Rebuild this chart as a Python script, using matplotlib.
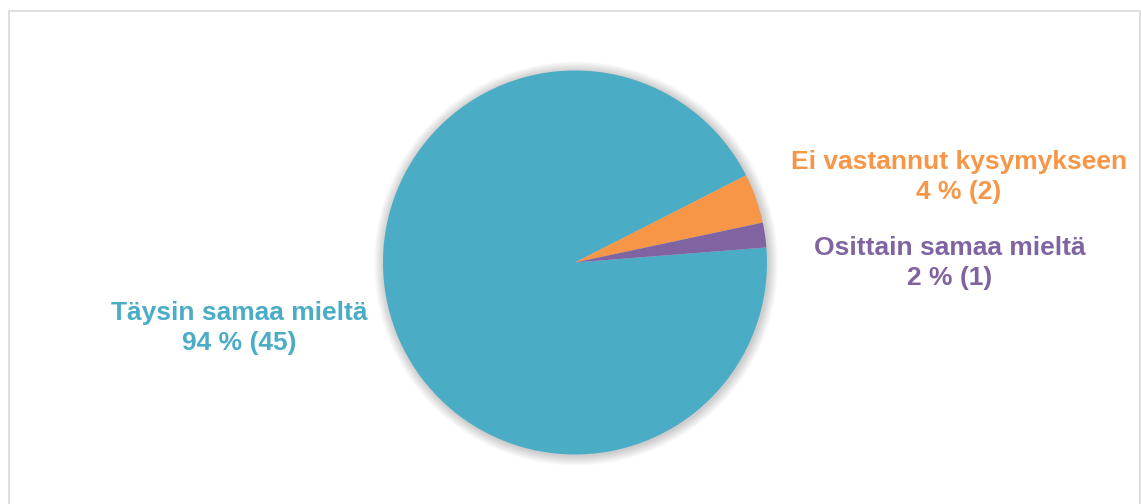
import matplotlib.pyplot as plt
from matplotlib.patches import Circle, Rectangle

# answer counts
categories = ["Täysin samaa mieltä", "Ei vastannut kysymykseen", "Osittain samaa mieltä"]
counts = [45, 2, 1]
colors = ["#4BACC6", "#F79646", "#8064A2"]

# label anchors (pixel coords, y from bottom)
label_pos = [(239, 176), (959, 327), (950, 241)]

W, H = 1141, 504
fig = plt.figure(figsize=(W / 100, H / 100), dpi=100)
ax = fig.add_axes([0, 0, 1, 1])

# chart area border
ax.add_patch(Rectangle((8.5, -10), 1131, H - 10.5 + 10, fill=False,
                       edgecolor="#D9D9D9", linewidth=1.2))

cx, cy, r = 575, 504 - 262.5, 192

# soft shadow around the pie
for i in range(10):
    ax.add_patch(Circle((cx + 1, cy - 1), r + 1 + i, color="black",
                        alpha=0.018, linewidth=0, zorder=1))

ax.pie(counts, colors=colors, startangle=4.5, counterclock=False,
       center=(cx, cy), radius=r, frame=True,
       wedgeprops=dict(linewidth=0, zorder=2))
ax.set_xlim(0, W)
ax.set_ylim(0, H)
ax.axis("off")

total = sum(counts)
for name, n, col, (x, y) in zip(categories, counts, colors, label_pos):
    pct = round(n / total * 100)
    ax.text(x, y, f"{name}\n{pct} % ({n})", ha="center", va="center",
            color=col, fontsize=19, fontweight="bold",
            family="Liberation Sans", linespacing=1.33, zorder=5)

fig.savefig("out.png", dpi=100)
